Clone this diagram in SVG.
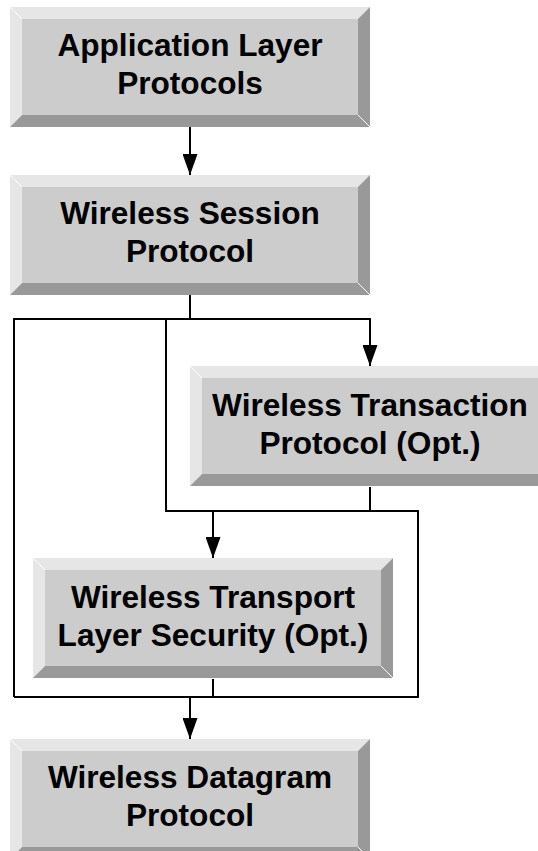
<svg xmlns="http://www.w3.org/2000/svg" width="538" height="851" viewBox="0 0 538 851">
<style>
.lt{fill:#e6e6e6}
.dk{fill:#999999}
.face{fill:#cccccc}
.dg{stroke:#ffffff;stroke-width:1;fill:none}
.lbl{font-family:"Liberation Sans",Arial,sans-serif;font-weight:bold;font-size:31.6px;fill:#000;text-anchor:middle}
.con{stroke:#000;stroke-width:2;fill:none}
</style>
<defs>
<g id="bevel">
<polygon class="lt" points="0,0 360,0 348,12 12,12"/>
<polygon class="lt" points="0,0 12,12 12,108 0,120"/>
<polygon class="dk" points="360,0 360,120 348,108 348,12"/>
<polygon class="dk" points="0,120 12,108 348,108 360,120"/>
<rect class="face" x="12" y="12" width="336" height="96"/>
<line class="dg" x1="0" y1="0" x2="12" y2="12"/>
<line class="dg" x1="348" y1="108" x2="360" y2="120"/>
</g>
<marker id="ah" markerUnits="userSpaceOnUse" markerWidth="21" markerHeight="15" viewBox="0 0 21 15" refX="21" refY="7.5" orient="auto">
<path d="M0,0 L21,7.5 L0,15 z" fill="#000"/>
</marker>
</defs>
<g id="connectors">
<line class="con" x1="190" y1="127" x2="190" y2="175" marker-end="url(#ah)"/>
<polyline class="con" points="190,295 190,319"/>
<polyline class="con" points="14,697 14,319 370,319 370,366" marker-end="url(#ah)"/>
<polyline class="con" points="166,319 166,511 418,511 418,697 14,697"/>
<polyline class="con" points="370,487 370,511"/>
<line class="con" x1="213" y1="511" x2="213" y2="558" marker-end="url(#ah)"/>
<polyline class="con" points="213,679 213,697"/>
<line class="con" x1="190" y1="697" x2="190" y2="739" marker-end="url(#ah)"/>
</g>
<g id="app" transform="translate(10,7)">
<use href="#bevel"/>
<text class="lbl" x="180" y="49">Application Layer</text>
<text class="lbl" x="180" y="87">Protocols</text>
</g>
<g id="wsp" transform="translate(10,175)">
<use href="#bevel"/>
<text class="lbl" x="180" y="49">Wireless Session</text>
<text class="lbl" x="180" y="87">Protocol</text>
</g>
<g id="wtp" transform="translate(190,366)">
<use href="#bevel"/>
<text class="lbl" x="180" y="50">Wireless Transaction</text>
<text class="lbl" x="180" y="88">Protocol (Opt.)</text>
</g>
<g id="wtls" transform="translate(33,558)">
<use href="#bevel"/>
<text class="lbl" x="180" y="50">Wireless Transport</text>
<text class="lbl" x="180" y="88">Layer Security (Opt.)</text>
</g>
<g id="wdp" transform="translate(10,739)">
<use href="#bevel"/>
<text class="lbl" x="180" y="49">Wireless Datagram</text>
<text class="lbl" x="180" y="87">Protocol</text>
</g>
</svg>
